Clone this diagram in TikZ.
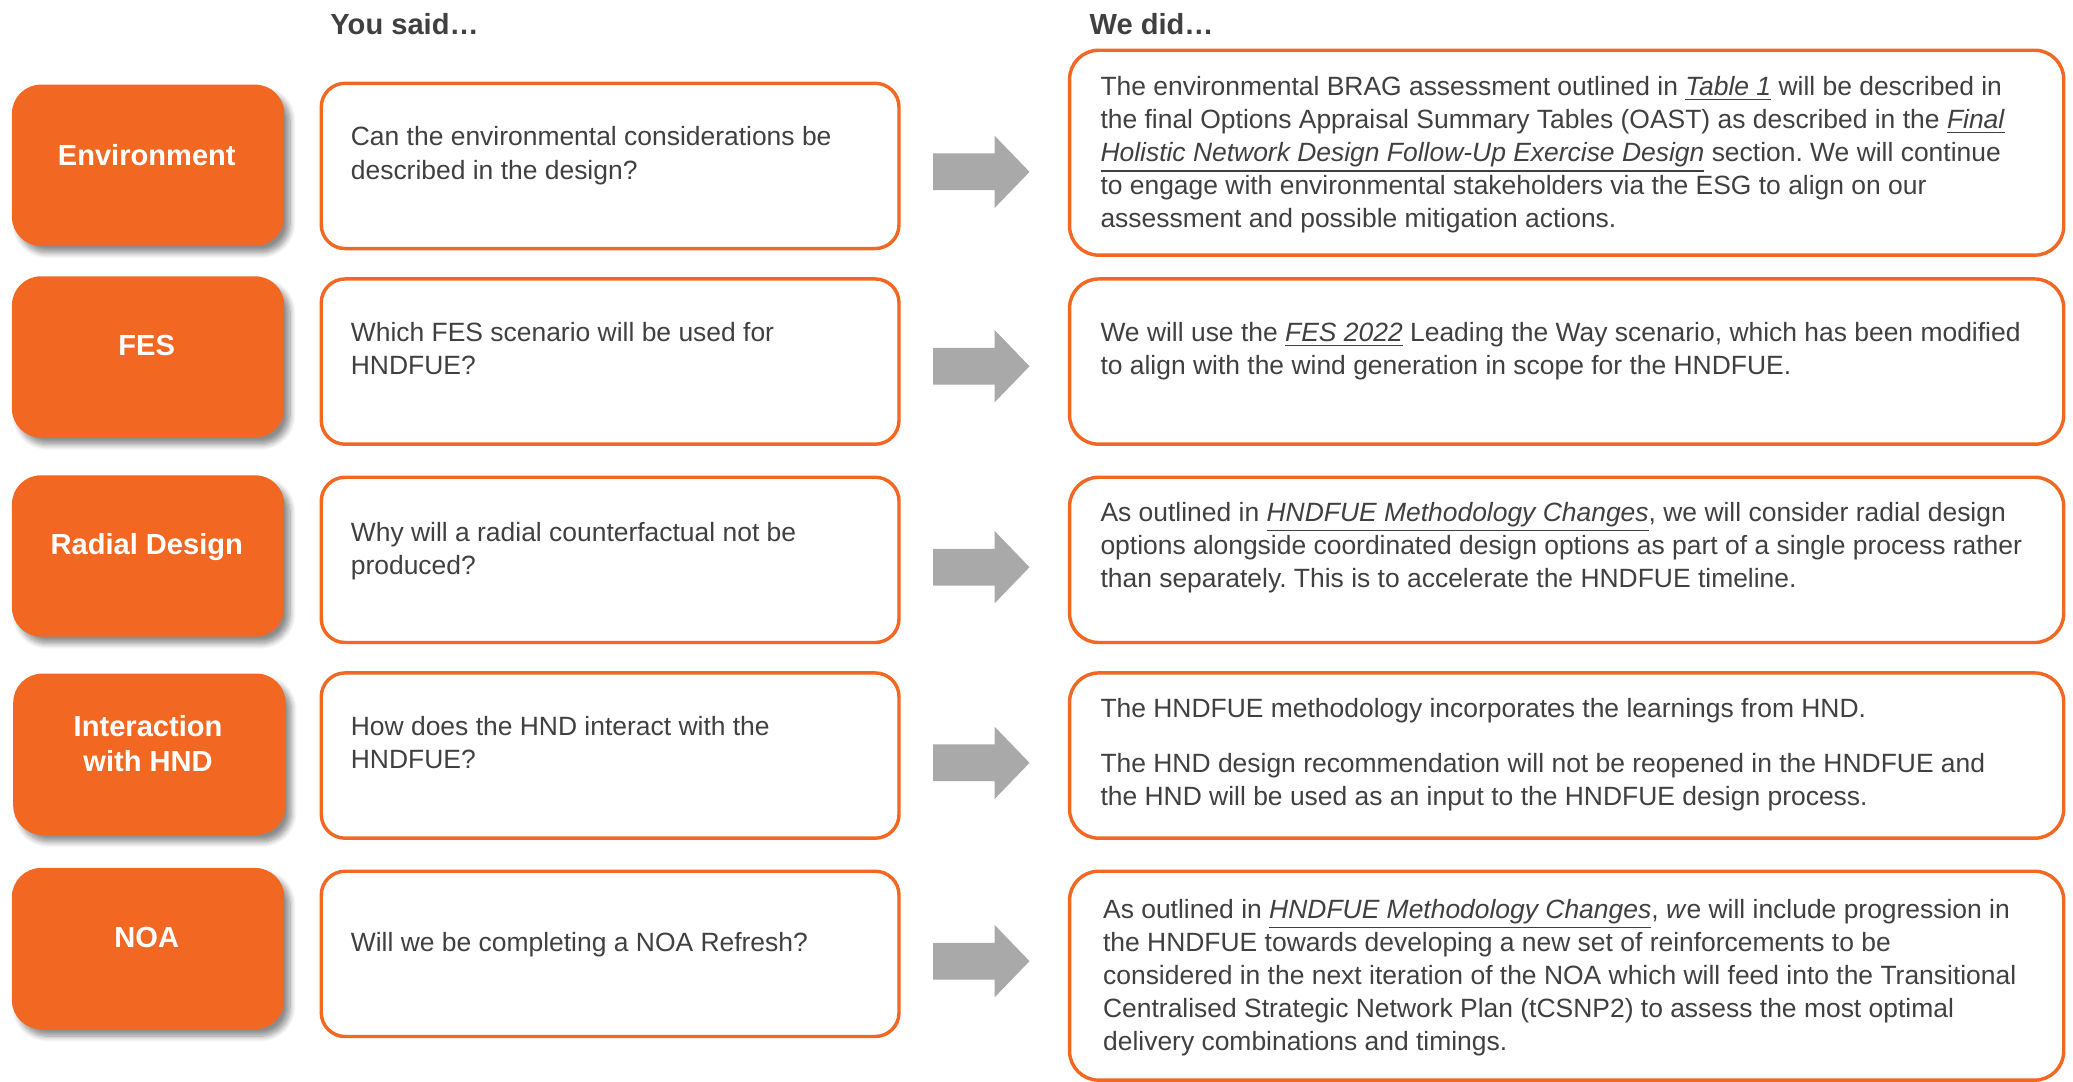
\documentclass[tikz,border=0pt]{standalone}
\usepackage{fontspec}
\setmainfont{Liberation Sans}
\frenchspacing
\usetikzlibrary{shapes.arrows,shadows.blur}
\definecolor{ngorange}{HTML}{F26722}
\definecolor{ngtext}{HTML}{404040}
\definecolor{nggray}{HTML}{A9A9AA}
\newcommand{\ul}[1]{\underline{\textit{#1}}}
\tikzset{
  catbox/.style={fill=ngorange, rounded corners=11pt, minimum width=103pt, minimum height=61pt,
    blur shadow={shadow xshift=2.2pt, shadow yshift=-2.6pt, shadow blur steps=8, shadow opacity=45}},
  catlabel/.style={text=white, font=\fontsize{11}{13.5}\selectfont\bfseries, align=center, inner sep=0},
  qbox/.style={draw=ngorange, line width=1.3pt, fill=white, rounded corners=9pt, minimum width=218.5pt, minimum height=62.5pt},
  abox/.style={draw=ngorange, line width=1.3pt, fill=white, rounded corners=11pt, minimum width=376pt},
  body/.style={anchor=north west, inner sep=0, text=ngtext, align=left, font=\fontsize{10}{12.5}\selectfont},
  head/.style={text=ngtext, font=\fontsize{11}{13}\selectfont\bfseries, inner sep=0},
  blockarrow/.style={single arrow, fill=nggray, inner xsep=0pt, inner ysep=6.75pt, minimum height=36.5pt,
    single arrow head extend=6.75pt, single arrow tip angle=92}
}
\begin{document}
\begin{tikzpicture}[x=0.5pt,y=-0.5pt]
\useasboundingbox (0,0) rectangle (1568,818);

% column headings
\node[head] (hsaid) at (306,18) {You said…};
\node[head] (hdid) at (871,18) {We did…};

% topic boxes
\node[catbox] (cat1) at (112,125) {};
\node[catbox] (cat2) at (112,270) {};
\node[catbox] (cat3) at (112,420.5) {};
\node[catbox] (cat4) at (113,570.5) {};
\node[catbox] (cat5) at (112,717.5) {};
\node[catlabel] (cat1l) at (111,117) {Environment};
\node[catlabel] (cat2l) at (111,261) {FES};
\node[catlabel] (cat3l) at (111,414) {Radial Design};
\node[catlabel] (cat4l) at (112,562.5) {Interaction\\with HND};
\node[catlabel] (cat5l) at (111,709) {NOA};

% question boxes
\node[qbox] (q1) at (461.5,125.5) {};
\node[qbox] (q2) at (461.5,273.5) {};
\node[qbox] (q3) at (461.5,423.5) {};
\node[qbox] (q4) at (461.5,571.5) {};
\node[qbox] (q5) at (461.5,721.5) {};
\node[body] (q1t) at (265,92.5) {\strut Can the environmental considerations be\\described in the design?};
\node[body] (q2t) at (265,240.5) {\strut Which FES scenario will be used for\\HNDFUE?};
\node[body] (q3t) at (265,391.5) {\strut Why will a radial counterfactual not be\\produced?};
\node[body] (q4t) at (265,538.5) {\strut How does the HND interact with the\\HNDFUE?};
\node[body] (q5t) at (265,701.5) {\strut Will we be completing a NOA Refresh?};

% answer boxes
\node[abox, minimum height=77.5pt] (a1) at (1185,115.5) {};
\node[abox, minimum height=62.5pt] (a2) at (1185,273.5) {};
\node[abox, minimum height=62.5pt] (a3) at (1185,423.5) {};
\node[abox, minimum height=62.5pt] (a4) at (1185,571.5) {};
\node[abox, minimum height=79pt] (a5) at (1185,738) {};
\node[body] (a1t) at (832,54.5) {\strut The environmental BRAG assessment outlined in \ul{Table 1} will be described in\\
the final Options Appraisal Summary Tables (OAST) as described in the \ul{Final}\\
\ul{Holistic Network Design Follow-Up Exercise Design} section. We will continue\\
to engage with environmental stakeholders via the ESG to align on our\\
assessment and possible mitigation actions.};
\node[body] (a2t) at (832,240.5) {\strut We will use the \ul{FES 2022} Leading the Way scenario, which has been modified\\
to align with the wind generation in scope for the HNDFUE.};
\node[body] (a3t) at (832,376.5) {\strut As outlined in \ul{HNDFUE Methodology Changes}, we will consider radial design\\
options alongside coordinated design options as part of a single process rather\\
than separately. This is to accelerate the HNDFUE timeline.};
\node[body] (a4t) at (832,524.5) {\strut The HNDFUE methodology incorporates the learnings from HND.\\[8.5pt]
The HND design recommendation will not be reopened in the HNDFUE and\\
the HND will be used as an input to the HNDFUE design process.};
\node[body] (a5t) at (834,676.5) {\strut As outlined in \ul{HNDFUE Methodology Changes}, \textit{w}e will include progression in\\
the HNDFUE towards developing a new set of reinforcements to be\\
considered in the next iteration of the NOA which will feed into the Transitional\\
Centralised Strategic Network Plan (tCSNP2) to assess the most optimal\\
delivery combinations and timings.};

% arrows from each question to its answer
\node[blockarrow] (ar1) at (735.5,130) {};
\node[blockarrow] (ar2) at (735.5,277) {};
\node[blockarrow] (ar3) at (735.5,429) {};
\node[blockarrow] (ar4) at (735.5,577) {};
\node[blockarrow] (ar5) at (735.5,727) {};
\end{tikzpicture}
\end{document}
